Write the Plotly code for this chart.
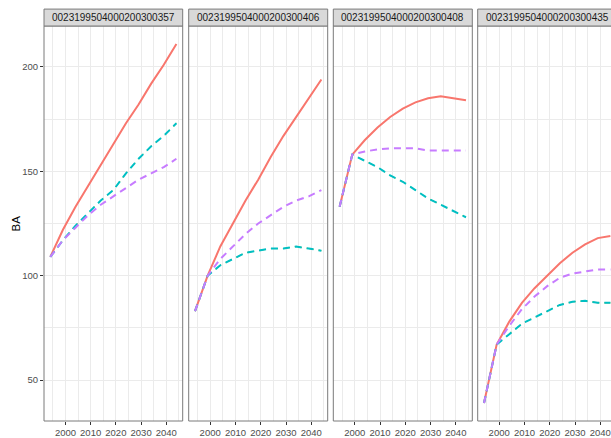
import plotly.graph_objects as go

years = [1994, 1999, 2004, 2009, 2014, 2019, 2024, 2029, 2034, 2039, 2044]
plots = ["002319950400020030035" + "7", "002319950400020030040" + "6",
         "002319950400020030040" + "8", "002319950400020030043" + "5"]

# BA values per plot (series 1 red solid, 2 green dashed, 3 cyan dashed, 4 purple dashed)
s1 = [
    [109, 122, 133, 143, 153, 163, 173, 182, 192, 201, 211],
    [83, 100, 114, 125, 136, 146, 157, 167, 176, 185, 194],
    [133, 158, 165, 171, 176, 180, 183, 185, 186, 185, 184],
    [39, 67, 78, 87, 94, 100, 106, 111, 115, 118, 119],
]
s2 = [
    [109, 117, 124, 130, 136, 141, 149, 156, 162, 167, 173],
    [83, 100, 105, 108, 111, 112, 113, 113, 114, 113, 112],
    [133, 158, 155, 152, 148, 145, 141, 137, 134, 131, 128],
    [39, 67, 72, 77, 80, 83, 86, 87.5, 88, 87, 87],
]
s3 = [row[:] for row in s2]
s4 = [
    [109, 117, 123, 129, 134, 138, 142, 146, 149, 152, 156],
    [83, 100, 108, 114, 120, 125, 129, 133, 136, 138, 141],
    [133, 158, 159.5, 160.5, 161, 161, 161, 160, 160, 160, 160],
    [39, 67, 76, 84, 90, 95, 99, 101, 102, 103, 103],
]
series = [("1", s1, "#F8766D", "solid", 2), ("2", s2, "#7CAE00", "7px,5px", 1.0),
          ("3", s3, "#00BFC4", "7px,5px", 2), ("4", s4, "#C77CFF", "7px,5px", 2)]

W, H = 611, 438
ML, MT, MB = 44, 26, 15
PW = W - ML
panels_px = [(43.7, 182.7), (188.7, 327.3), (333.3, 471.7), (477.7, 611.0)]
full_w = 139.0
xr = [1991.5, 2046.5]

fig = go.Figure()
for i in range(4):
    ax = "" if i == 0 else str(i + 1)
    for name, data, color, dash, lw in series:
        fig.add_trace(go.Scatter(x=years, y=data[i], mode="lines", name=name,
                                 line=dict(color=color, width=lw, dash=dash),
                                 xaxis="x" + ax, yaxis="y" + ax, showlegend=False))

layout = dict(width=W, height=H, margin=dict(l=ML, r=0, t=MT, b=MB),
              plot_bgcolor="white", paper_bgcolor="white",
              font=dict(family="Liberation Sans, Arial, sans-serif", size=9.5, color="#4D4D4D"))
shapes = []
annotations = []
grid = "#EBEBEB"
for i, (a, b) in enumerate(panels_px):
    d0 = (a - ML) / PW
    d1 = min((b - ML) / PW, 1.0)
    vis_w = b - a
    rng = [xr[0], xr[0] + (xr[1] - xr[0]) * vis_w / full_w]
    key = "" if i == 0 else str(i + 1)
    layout["xaxis" + key] = dict(domain=[max(d0, 0), d1], range=rng, anchor="y" + key,
                                 tickvals=[2000, 2010, 2020, 2030, 2040],
                                 showgrid=True, gridcolor=grid, gridwidth=1,
                                 minor=dict(tickvals=[1995, 2005, 2015, 2025, 2035, 2045],
                                            showgrid=True, gridcolor=grid, gridwidth=0.5),
                                 ticks="outside", ticklen=3, tickcolor="#333333",
                                 zeroline=False, showline=False, fixedrange=True)
    layout["yaxis" + key] = dict(domain=[0, 1], range=[30.4, 219.6], anchor="x" + key,
                                 tickvals=[50, 100, 150, 200],
                                 showgrid=True, gridcolor=grid, gridwidth=1,
                                 minor=dict(tickvals=[75, 125, 175],
                                            showgrid=True, gridcolor=grid, gridwidth=0.5),
                                 ticks="outside" if i == 0 else "", ticklen=3, tickcolor="#333333",
                                 showticklabels=(i == 0), zeroline=False, showline=False,
                                 fixedrange=True)
    xd = "x" + key + " domain"
    yd = "y" + key + " domain"
    ext = full_w / vis_w
    shapes.append(dict(type="rect", xref=xd, yref=yd, x0=0, x1=ext, y0=0, y1=1,
                       line=dict(color="#7A7A7A", width=1), fillcolor="rgba(0,0,0,0)", layer="above"))
    sh = 17 / (H - MT - MB)
    shapes.append(dict(type="rect", xref=xd, yref=yd, x0=0, x1=ext, y0=1, y1=1 + sh,
                       line=dict(color="#7A7A7A", width=1), fillcolor="#D9D9D9", layer="above"))
    annotations.append(dict(text=plots[i], xref=xd, yref=yd, x=0.5 * ext, y=1 + sh / 2,
                            showarrow=False, font=dict(size=10, color="#1A1A1A"),
                            xanchor="center", yanchor="middle"))

annotations.append(dict(text="BA", xref="paper", yref="paper", x=(15 - ML) / PW, y=0.5,
                        showarrow=False, textangle=-90, font=dict(size=11.5, color="black"),
                        xanchor="center", yanchor="middle"))
layout["shapes"] = shapes
layout["annotations"] = annotations
fig.update_layout(**layout)
fig.write_html("out.html", config={"displayModeBar": False},
               post_script="document.body.style.margin='0';document.body.style.overflow='hidden';")
